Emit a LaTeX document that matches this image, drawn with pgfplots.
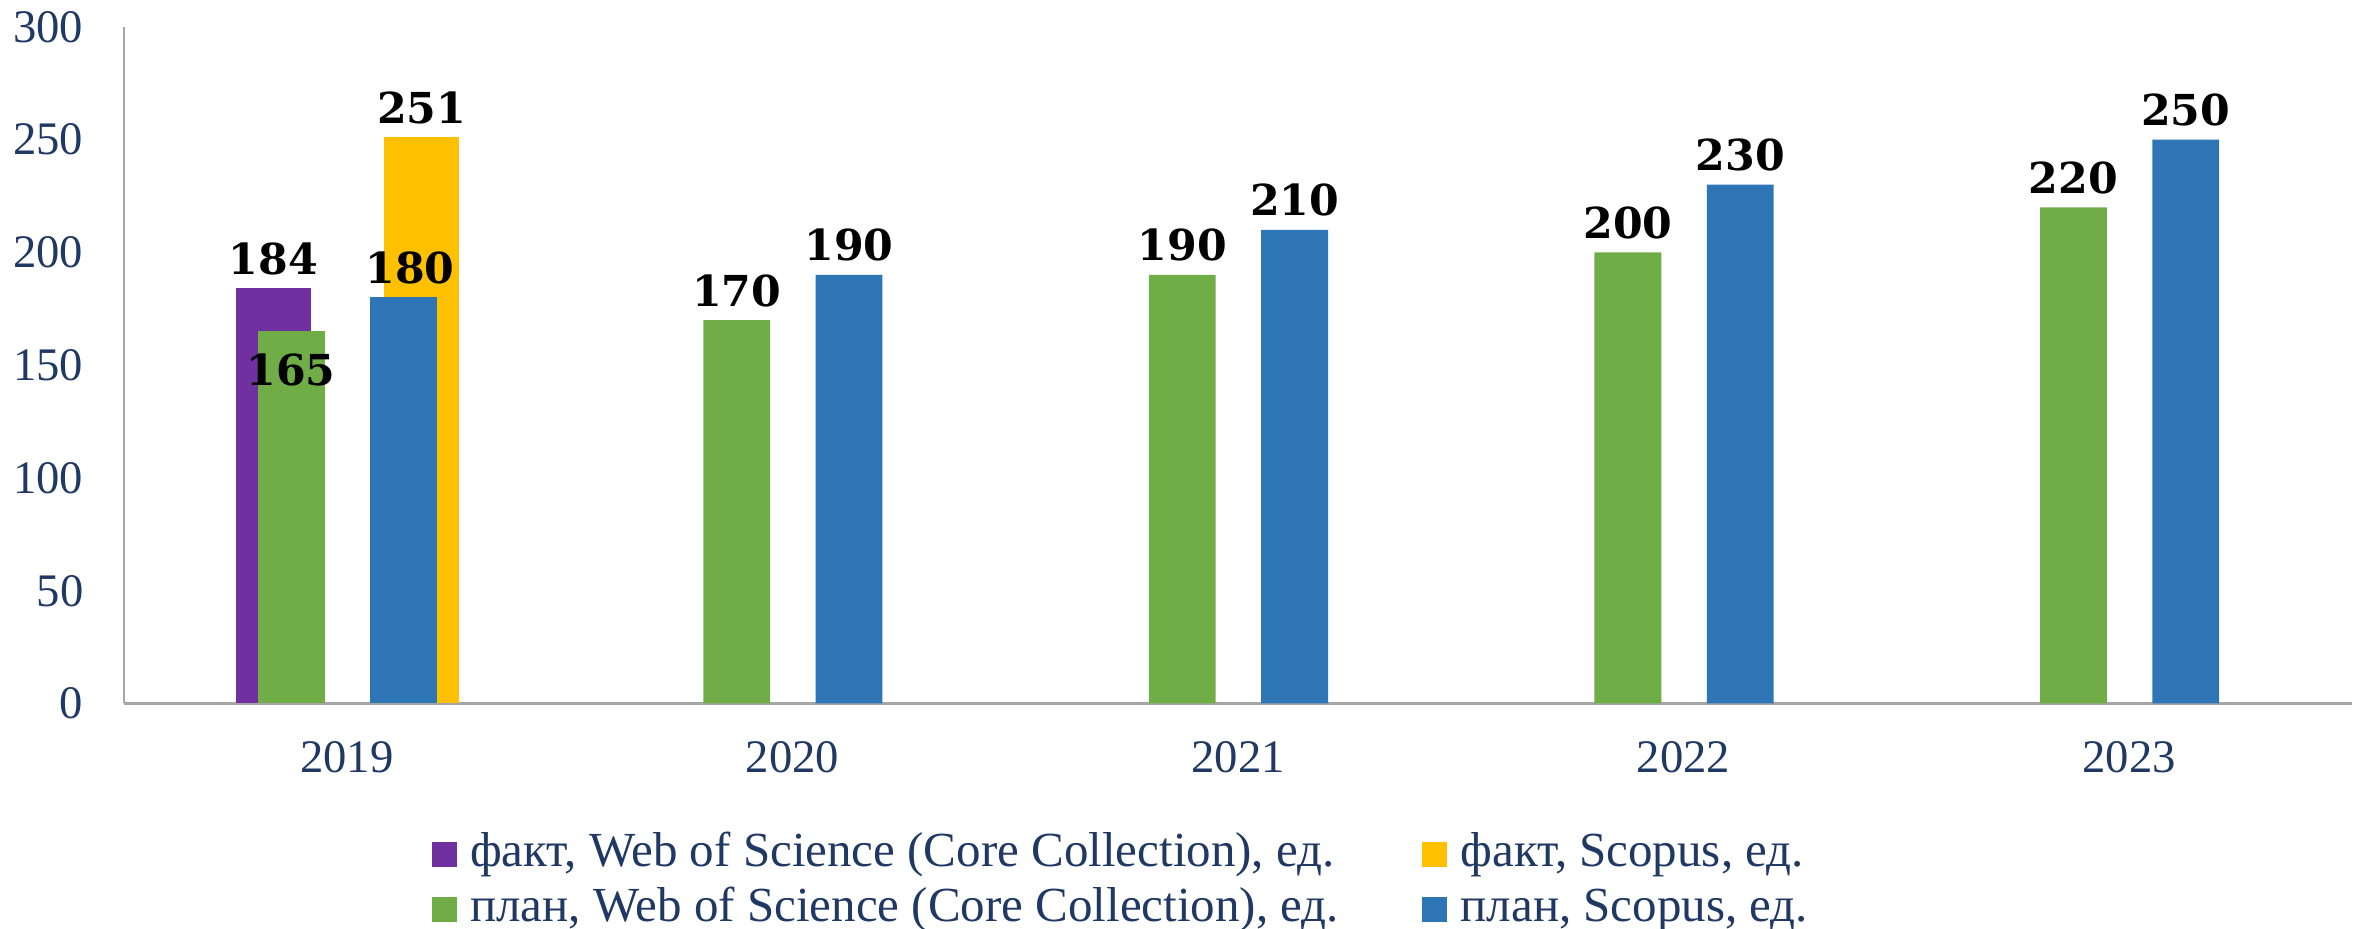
\documentclass[border=0pt]{standalone}
\usepackage{pgfplots}
\pgfplotsset{compat=1.18}
\usepackage{fontspec}
\setmainfont{Liberation Serif}
\newfontfamily\labserif{DejaVu Serif}
\definecolor{cpurple}{HTML}{7030A0}
\definecolor{cyellow}{HTML}{FFC000}
\definecolor{cgreen}{HTML}{70AD47}
\definecolor{cblue}{HTML}{2E75B6}
\definecolor{tickblue}{HTML}{1F3864}
\definecolor{axgray}{HTML}{A6A6A6}
\newcommand{\labfont}{\labserif\fontsize{12.8}{15}\selectfont\bfseries}
\begin{document}
\begin{tikzpicture}
\begin{axis}[
  /pgf/number format/assume math mode=true,
  at={(37.2pt,67.35pt)}, anchor=south west,
  scale only axis,
  width=668.4pt, height=203pt,
  xmin=-0.5, xmax=4.5,
  ymin=0, ymax=300,
  ytick={0,50,100,150,200,250,300},
  xtick={0,1,2,3,4},
  xticklabels={2019,2020,2021,2022,2023},
  axis x line*=bottom, axis y line*=left,
  axis line style={draw=axgray, line width=0.7pt},
  major tick length=0pt,
  tick style={draw=none},
  ticklabel style={font=\fontsize{14}{16}\selectfont, text=tickblue},
  yticklabel style={anchor=east, inner sep=0pt, xshift=-12pt},
  xticklabel style={anchor=center, inner sep=0pt, yshift=-16pt},
  clip=false,
  ybar,
  every node near coord/.append style={font=\labfont, text=black, anchor=south, inner sep=0pt, yshift=3.8pt},
  legend image code/.code={\fill[#1,draw=none] (0pt,-3.75pt) rectangle (7.5pt,3.75pt);},
  legend columns=2,
  legend cell align=left,
  legend style={at={(axis description cs:0.1382,-0.191)}, anchor=north west,
    draw=none, fill=none, inner sep=0pt, outer sep=0pt,
    font=\fontsize{14.7}{17}\selectfont, text=tickblue,
    row sep=3.5pt,
    nodes={inner sep=0pt, text height=10pt, text depth=3pt},
    /tikz/every odd column/.append style={column sep=4pt},
    /tikz/every even column/.append style={column sep=25pt}},
]
\addplot[fill=cpurple, draw=none, bar width=0.168, bar shift=-0.165, nodes near coords]
  coordinates {(0,184)};
\addlegendentry{факт, Web of Science (Core Collection), ед.}
\addplot[fill=cyellow, draw=none, bar width=0.168, bar shift=0.168, nodes near coords]
  coordinates {(0,251)};
\addlegendentry{факт, Scopus, ед.}
\addplot[fill=cgreen, draw=none, bar width=0.15, bar shift=-0.125, nodes near coords]
  coordinates {(1,170) (2,190) (3,200) (4,220)};
\addlegendentry{план, Web of Science (Core Collection), ед.}
\addplot[fill=cblue, draw=none, bar width=0.15, bar shift=0.127, nodes near coords]
  coordinates {(1,190) (2,210) (3,230) (4,250)};
\addlegendentry{план, Scopus, ед.}
\addplot[fill=cgreen, draw=none, bar width=0.15, bar shift=-0.125, forget plot,
  nodes near coords, every node near coord/.append style={anchor=north, yshift=-10.5pt}]
  coordinates {(0,165)};
\addplot[fill=cblue, draw=none, bar width=0.15, bar shift=0.127, forget plot,
  nodes near coords, every node near coord/.append style={xshift=2pt}]
  coordinates {(0,180)};
\end{axis}
\pgfresetboundingbox
\useasboundingbox (0,0) rectangle (706.2pt,278.4pt);
\end{tikzpicture}
\end{document}
